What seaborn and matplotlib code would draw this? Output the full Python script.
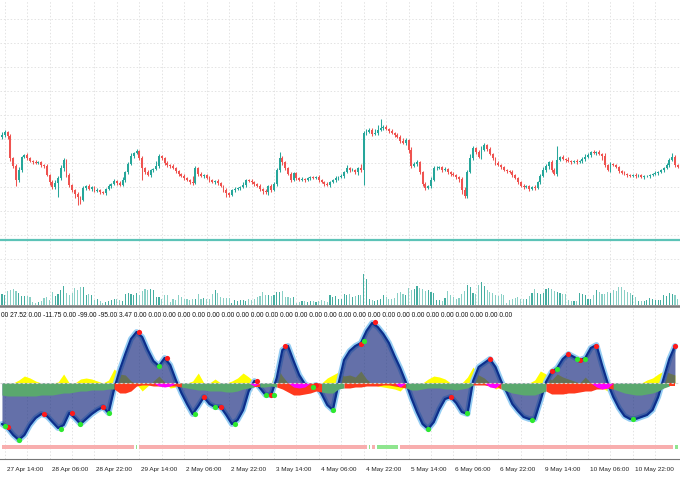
import numpy as np
import matplotlib
matplotlib.use("Agg")
import matplotlib.pyplot as plt
import matplotlib.transforms as mtransforms
import seaborn as sns

# ----------------------------
# Data (H1 bars)
# ----------------------------

BASE_PRICE = 1.1300
POINT = 0.0001
LEVEL_PRICE = 1.1300

first_open_pts = 103

# close of every bar, in points above BASE_PRICE
close_pts = [
    105, 108, 104, 82, 74, 60, 70, 83, 85, 82, 79,
    78, 77, 78, 75, 74, 65, 58, 53, 57, 62,
    72, 80, 65, 55, 50, 46, 43, 40, 52, 54,
    51, 53, 49, 50, 48, 47, 51, 54, 56, 59,
    57, 55, 60, 68, 76, 84, 87, 89, 82, 72,
    68, 65, 70, 71, 74, 84, 82, 77, 75, 74,
    72, 69, 66, 64, 62, 60, 58, 57, 72, 66,
    64, 65, 62, 60, 58, 59, 57, 54, 50, 47,
    45, 50, 51, 52, 53, 55, 60, 59, 58, 56,
    54, 51, 49, 48, 54, 50, 56, 70, 82, 78,
    72, 66, 60, 67, 62, 60, 61, 60, 62, 63,
    62, 63, 60, 58, 56, 55, 58, 60, 62, 63,
    64, 68, 72, 70, 70, 68, 72, 70, 107, 108,
    110, 106, 107, 110, 112, 113, 111, 109, 107, 105,
    103, 99, 97, 100, 90, 74, 76, 78, 68, 56,
    52, 54, 60, 72, 72, 73, 70, 71, 68, 66,
    65, 63, 61, 50, 44, 68, 82, 92, 88, 83,
    90, 95, 91, 86, 82, 77, 75, 73, 70, 69,
    68, 65, 62, 58, 54, 53, 54, 51, 53, 52,
    58, 64, 70, 74, 78, 70, 66, 80, 83, 81,
    80, 79, 78, 79, 78, 79, 81, 83, 85, 88,
    87, 88, 86, 84, 75, 70, 76, 75, 73, 69,
    67, 66, 65, 64, 65, 64, 65, 63, 64, 64,
    65, 66, 67, 68, 70, 72, 75, 80, 83, 75, 73,
]

upper_wick = [
    3, 2, 1, 2, 1, 2, 3, 1, 1, 2,
    1, 1, 2, 1, 1, 1, 2, 1, 2, 3,
    2, 3, 2, 1, 2, 1, 1, 2, 1, 2,
    1, 2, 1, 1, 2, 1, 1, 1, 2, 1,
    2, 1, 2, 3, 1, 2, 3, 1, 2, 1,
    2, 1, 2, 1, 1, 5, 2, 1, 1, 2,
    1, 2, 1, 1, 1, 2, 1, 1, 6, 2,
    1, 2, 1, 1, 2, 1, 1, 2, 1, 1,
    2, 1, 1, 2, 1, 1, 3, 1, 1, 2,
    1, 1, 2, 1, 2, 1, 2, 2, 2, 6,
    2, 1, 1, 2, 1, 1, 1, 2, 1, 1,
    1, 1, 1, 2, 1, 1, 2, 1, 1, 2,
    1, 2, 1, 3, 1, 2, 1, 1, 4, 2,
    3, 2, 2, 4, 5, 9, 2, 2, 1, 2,
    1, 2, 2, 3, 2, 1, 3, 2, 2, 1,
    1, 2, 1, 3, 2, 2, 1, 1, 2, 1,
    1, 2, 1, 1, 2, 3, 2, 4, 2, 1,
    2, 4, 2, 1, 2, 1, 1, 2, 1, 1,
    1, 1, 2, 1, 1, 1, 2, 1, 1, 1,
    2, 1, 2, 3, 2, 1, 2, 2, 14, 1,
    2, 1, 3, 1, 1, 2, 1, 2, 3, 2,
    1, 2, 1, 2, 1, 3, 1, 2, 1, 1,
    1, 1, 2, 1, 1, 1, 2, 1, 1, 1,
    1, 1, 1, 2, 1, 1, 1, 2, 2, 4,
    2, 1,
]

lower_wick = [
    2, 2, 3, 3, 2, 6, 2, 2, 1, 2,
    1, 2, 1, 1, 2, 2, 1, 3, 2, 2,
    14, 2, 3, 2, 2, 2, 4, 8, 4, 1,
    2, 1, 2, 1, 1, 2, 1, 2, 1, 2,
    1, 2, 1, 1, 2, 2, 1, 2, 1, 2,
    12, 2, 1, 2, 2, 1, 2, 2, 2, 2,
    2, 1, 2, 2, 1, 2, 1, 2, 2, 1,
    2, 1, 2, 1, 2, 1, 2, 2, 1, 2,
    4, 2, 1, 2, 1, 2, 1, 2, 1, 2,
    2, 1, 2, 3, 2, 3, 2, 1, 2, 2,
    3, 2, 1, 2, 1, 2, 1, 1, 2, 1,
    2, 1, 1, 2, 1, 2, 1, 2, 1, 2,
    2, 1, 2, 1, 2, 1, 2, 3, 2, 15,
    2, 1, 2, 1, 2, 1, 2, 1, 2, 1,
    2, 1, 2, 1, 2, 3, 2, 1, 2, 2,
    2, 2, 1, 2, 1, 2, 1, 2, 1, 2,
    2, 1, 2, 3, 4, 2, 2, 1, 2, 2,
    1, 2, 1, 2, 1, 2, 2, 1, 2, 1,
    2, 1, 2, 1, 2, 1, 2, 1, 2, 1,
    2, 1, 2, 1, 2, 3, 2, 1, 2, 1,
    1, 2, 1, 2, 1, 2, 1, 2, 2, 1,
    2, 1, 2, 1, 4, 2, 1, 2, 1, 1,
    2, 1, 1, 2, 1, 1, 2, 1, 1, 2,
    1, 2, 1, 1, 2, 1, 2, 1, 2, 1,
    2, 1,
]

tick_volume = [
    11, 10, 14, 15, 16, 14, 12, 9, 9, 9, 8,
    3, 2, 3, 4, 7, 8, 5, 13, 9, 11,
    15, 19, 12, 10, 12, 17, 15, 18, 18, 10,
    11, 10, 5, 6, 4, 2, 3, 4, 5, 6,
    6, 5, 4, 11, 12, 11, 10, 12, 10, 14,
    16, 15, 16, 15, 8, 8, 6, 10, 10, 3,
    6, 5, 10, 8, 6, 6, 5, 6, 6, 11,
    6, 7, 6, 6, 11, 15, 12, 8, 7, 7,
    7, 2, 5, 4, 5, 5, 4, 6, 5, 6,
    8, 9, 13, 10, 10, 9, 10, 13, 13, 14,
    8, 8, 7, 8, 2, 3, 4, 4, 3, 4,
    4, 3, 4, 5, 4, 3, 10, 8, 9, 6,
    6, 11, 10, 11, 8, 9, 10, 10, 31, 26,
    6, 5, 4, 5, 6, 10, 8, 6, 6, 7,
    12, 13, 11, 10, 17, 15, 16, 19, 17, 16,
    14, 15, 13, 12, 5, 5, 4, 7, 14, 10,
    8, 6, 7, 11, 14, 20, 18, 12, 11, 20,
    23, 19, 15, 13, 12, 10, 9, 11, 10, 2,
    5, 6, 7, 8, 6, 6, 6, 9, 12, 16,
    12, 11, 12, 16, 17, 16, 14, 13, 12, 11,
    11, 5, 4, 4, 4, 12, 11, 10, 6, 6,
    10, 15, 13, 11, 11, 13, 12, 15, 14, 18,
    18, 15, 13, 12, 10, 8, 4, 4, 4, 5,
    7, 6, 5, 5, 5, 10, 9, 12, 11, 10, 6,
]

# oscillator window, one value every second bar
OSC_STEP = 2
osc_main = [
    -41, -45, -52, -57, -52, -42, -35, -31, -33, -39,
    -45, -42, -30, -35, -41, -36, -31, -27, -24, -30,
    -6, 13, 29, 44, 51, 46, 33, 22, 17, 25,
    18, 3, -10, -21, -31, -23, -14, -21, -24, -24,
    -32, -41, -37, -27, -8, 2, -5, -12, -12, 5,
    33, 37, 22, 8, -1, -4, -2, -11, -22, -27,
    -1, 23, 32, 37, 40, 52, 60, 56, 49, 40,
    27, 15, 1, -15, -29, -41, -46, -39, -26, -16,
    -14, -20, -29, -31, 2, 16, 20, 24, 16, 2,
    -9, -21, -28, -34, -36, -36, -18, 1, 11, 15,
    24, 29, 26, 23, 25, 35, 38, 18, 0, -14,
    -25, -33, -36, -36, -34, -32, -27, -14, 5, 24, 37,
]

osc_yellow = [
    0, 0, 0, 3, 7, 5, 2, 0, 0, 0,
    1, 9, 0, 0, 4, 5, 4, 2, 0, 3,
    14, 9, 8, 2, -1, -8, -3, 2, 7, 1,
    -5, -4, 0, 0, 2, 10, 0, 0, 4, 0,
    0, 2, 5, 10, 6, 1, 0, 0, 0, 16,
    7, 0, 0, 0, 0, 0, 0, 0, 5, 8,
    11, 7, 8, 6, 12, 4, -1, -3, -4, -5,
    -6, -8, -2, 0, 0, 0, 4, 7, 6, 4,
    0, 0, 0, 6, 16, 8, 5, 0, -6, -4,
    0, 0, 0, 0, 0, 3, 12, 9, 3, 9,
    6, 4, 2, 0, 6, 0, 0, -5, -8, 0,
    0, 0, 0, 0, 0, 3, 5, 9, 12, 10, 8,
]

osc_band = [
    -12, -13, -13, -13, -13, -13, -13, -12, -12, -12,
    -11, -10, -10, -9, -8, -8, -7, -7, -7, -6,
    -6, -10, -10, -8, -3, -2, -2, -3, -3, -3,
    -3, -3, -4, -5, -6, -7, -7, -8, -8, -8,
    -9, -9, -8, -6, -5, -4, -4, -4, -3, -4,
    -6, -9, -12, -12, -11, -10, -8, -9, -10, -10,
    -6, -5, -5, -4, -4, -3, -3, -3, -2, -2,
    -3, -4, -5, -7, -7, -6, -5, -5, -5, -6,
    -6, -7, -6, -5, -2, -2, -2, -3, -3, -6,
    -8, -10, -11, -12, -12, -12, -10, -8, -11, -11,
    -11, -10, -10, -9, -8, -8, -6, -6, -5, -6,
    -8, -10, -11, -12, -12, -11, -10, -8, -5, -3, -3,
]

# (colour, first sample, last sample) of the band under the zero line
band_runs = [
    ("g", 0, 19), ("r", 20, 31), ("g", 32, 44), ("r", 45, 45),
    ("g", 46, 48), ("r", 49, 56), ("g", 57, 60), ("r", 61, 71),
    ("g", 72, 83), ("r", 84, 88), ("g", 89, 96), ("r", 97, 108),
    ("g", 109, 118), ("r", 119, 120),
]

osc_magenta = [0] * 121
for k, v in [(28, -3), (29, -4), (30, -3), (45, -3),
             (52, -4), (53, -5), (54, -4), (71, -4), (87, -4), (88, -5),
             (106, -4), (107, -6), (108, -5)]:
    osc_magenta[k] = v

sell_bars = [2, 15, 25, 36, 49, 59, 72, 78, 91, 96, 101, 112, 128, 133,
             160, 174, 196, 202, 206, 212, 240]
sell_vals = [-44, -31, -30, -24, 51, 25, -14, -24, 2, -12, 37, -2, 39, 61,
             -14, 24, 12, 29, 23, 37, 37]
buy_bars = [1, 6, 21, 28, 38, 56, 69, 76, 83, 94, 97, 111, 118, 129,
            152, 166, 189, 198, 205, 208, 225]
buy_vals = [-43, -57, -46, -41, -30, 17, -31, -24, -41, -12, -12, -4, -27, 42,
            -46, -30, -37, 14, 24, 24, -36]

# (state, first bar, last bar) of the status strip
status_runs = [
    ("sell", 0, 47), ("buy", 48, 48), ("sell", 49, 130), ("buy", 131, 131),
    ("sell", 132, 133), ("buy", 134, 141), ("sell", 142, 239), ("buy", 240, 241),
]

tick_labels = [
    "27 Apr 14:00", "28 Apr 06:00", "28 Apr 22:00", "29 Apr 14:00",
    "2 May 06:00", "2 May 22:00", "3 May 14:00", "4 May 06:00",
    "4 May 22:00", "5 May 14:00", "6 May 06:00", "6 May 22:00",
    "9 May 14:00", "10 May 06:00", "10 May 22:00",
]
TICK_EVERY = 16
FIRST_TICK_BAR = 1

value_text = "00 27.52 0.00 -11.75 0.00 -99.00 -95.00 3.47" + " 0.00" * 26

# ----------------------------
# Prepare series
# ----------------------------

n = len(close_pts)
bars = np.arange(n)
close = BASE_PRICE + np.array(close_pts) * POINT
opens = np.r_[BASE_PRICE + first_open_pts * POINT, close[:-1]]
high = np.maximum(opens, close) + np.array(upper_wick) * POINT
low = np.minimum(opens, close) - np.array(lower_wick) * POINT
up = close >= opens

osc_bars = np.arange(len(osc_main)) * OSC_STEP
osc_main = np.array(osc_main, dtype=float)

UP_C = "#26a69a"
DN_C = "#ef5350"
candle_colors = np.where(up, UP_C, DN_C)

# ----------------------------
# Figure
# ----------------------------

sns.set_style("white")
plt.rcParams["font.family"] = ["Liberation Sans", "DejaVu Sans"]

W, H = 680, 478
fig = plt.figure(figsize=(W / 100, H / 100), dpi=100)

def px_axes(top, bottom):
    return fig.add_axes([0, (H - bottom) / H, 1, (bottom - top) / H])

ax_main = px_axes(0, 306)
ax_vol = px_axes(247, 306)
ax_osc = px_axes(308, 459)

xlim = (-0.7, n - 0.2)
grid_major = FIRST_TICK_BAR + TICK_EVERY * np.arange(len(tick_labels))
grid_minor = grid_major + TICK_EVERY // 2
GRID_C = "#e3e3e3"

for ax in (ax_main, ax_vol, ax_osc):
    ax.set_xlim(*xlim)
    for s in ax.spines.values():
        s.set_visible(False)

# main chart grid
ax_main.set_ylim(BASE_PRICE - 66 * POINT, BASE_PRICE + 240 * POINT)
ax_main.set_yticks(BASE_PRICE + np.arange(-43, 240, 24) * POINT)
ax_main.set_xticks(np.r_[grid_major, grid_minor])
ax_main.tick_params(length=0, labelleft=False, labelbottom=False)
ax_main.grid(True, color=GRID_C, linestyle=(0, (1.5, 2)), linewidth=0.7)
ax_main.spines["bottom"].set_visible(True)
ax_main.spines["bottom"].set_color("#7c7c7c")
ax_main.spines["bottom"].set_linewidth(1.8)

# candles
ax_main.vlines(bars, low, high, colors=candle_colors, linewidth=0.75, zorder=2)
body = np.maximum(np.abs(close - opens), 0.4 * POINT)
ax_main.bar(bars, body, bottom=np.minimum(opens, close), width=0.68,
            color=candle_colors, linewidth=0, zorder=3)
ax_main.axhline(LEVEL_PRICE, color="#5cc3b7", linewidth=1.6, zorder=4)

# volumes
ax_vol.patch.set_alpha(0)
ax_vol.set_ylim(-1, 58)
ax_vol.set_xticks([])
ax_vol.set_yticks([])
vol_colors = np.where(up, "#45aea1", "#8ad0c6")
ax_vol.bar(bars, tick_volume, width=0.4, color=vol_colors, linewidth=0)

# oscillator window
ax_osc.set_ylim(-76, 75)
ax_osc.set_yticks([])
ax_osc.set_xticks(grid_major)
ax_osc.set_xticks(grid_minor, minor=True)
ax_osc.grid(True, which="both", axis="x", color=GRID_C,
            linestyle=(0, (1.5, 2)), linewidth=0.7)
ax_osc.set_xticklabels(tick_labels, fontsize=4.6, color="#222222", ha="left")
ax_osc.tick_params(axis="x", which="major", length=5, width=0.6,
                   color="#555555", pad=0.5, direction="out")
ax_osc.tick_params(axis="x", which="minor", length=0)
shift = mtransforms.ScaledTranslation(2 / 100, 0, fig.dpi_scale_trans)
for lab in ax_osc.get_xticklabels():
    lab.set_transform(lab.get_transform() + shift)
ax_osc.spines["bottom"].set_visible(True)
ax_osc.spines["bottom"].set_color("#777777")
ax_osc.spines["bottom"].set_linewidth(0.8)

ax_osc.fill_between(osc_bars, 0, osc_yellow, color="#ffff00", linewidth=0, zorder=1)
sns.lineplot(x=osc_bars, y=osc_main, ax=ax_osc, color="#95cdf3",
             linewidth=4.2, zorder=2)
ax_osc.fill_between(osc_bars, 0, osc_main, color="#1a2d80", alpha=0.68,
                    linewidth=0, zorder=3)
sns.lineplot(x=osc_bars, y=osc_main, ax=ax_osc, color="#0c2f8c",
             linewidth=1.6, zorder=4)

band_colors = {"g": "#5aa86e", "r": "#ff3a1e"}
for c, a, b in band_runs:
    sl = slice(a, min(b + 2, len(osc_band)))
    ax_osc.fill_between(osc_bars[sl], 0, np.array(osc_band)[sl],
                        color=band_colors[c], linewidth=0, zorder=5)
ax_osc.fill_between(osc_bars, 0, osc_magenta, color="#ff00ff", linewidth=0, zorder=6)
ax_osc.axhline(0, color="#d4d4d4", linewidth=0.8, linestyle=(0, (2, 2)), zorder=6.5)

sns.scatterplot(x=sell_bars, y=sell_vals, ax=ax_osc, color="#ff1a1a", s=14,
                linewidth=0, zorder=7)
sns.scatterplot(x=buy_bars, y=buy_vals, ax=ax_osc, color="#2ee82e", s=14,
                linewidth=0, zorder=7)

status_colors = {"sell": "#f8aeae", "buy": "#8fe58f"}
for state, a, b in status_runs:
    ax_osc.broken_barh([(a - 0.15, b - a + 0.3)], (-66, 4),
                       facecolors=status_colors[state], linewidth=0, zorder=2)

ax_osc.text(0.0015, 0.975, value_text, transform=ax_osc.transAxes,
            ha="left", va="top", fontsize=4.75, color="#111111")
ax_osc.set_xlabel("")
ax_osc.set_ylabel("")

fig.savefig("out.png", dpi=100)
plt.close(fig)
